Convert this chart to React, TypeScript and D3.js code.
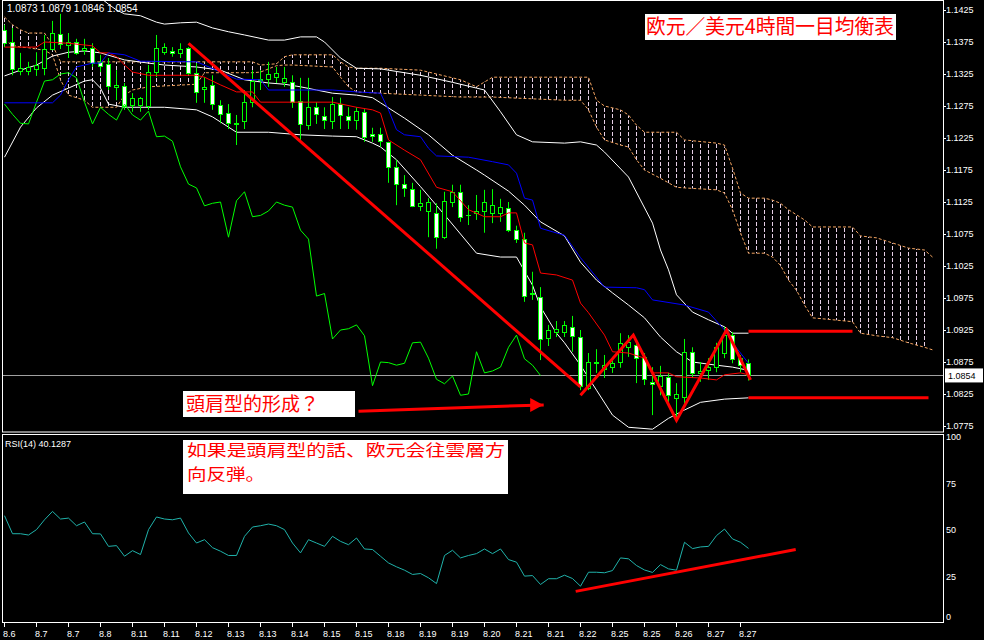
import React from 'react';
import * as d3 from 'd3';

// EUR/USD 4H bars
const opens = [
  1.1394, 1.1375, 1.1330, 1.1330, 1.1333, 1.1334, 1.1364, 1.1388, 1.1370, 1.1375,
  1.1362, 1.1366, 1.1344, 1.1341, 1.1305, 1.1306, 1.1277, 1.1277, 1.1275, 1.1328,
  1.1359, 1.1361, 1.1358, 1.1366, 1.1327, 1.1302, 1.1308, 1.1277, 1.1264, 1.1248,
  1.1252, 1.1281, 1.1317, 1.1317, 1.1320, 1.1312, 1.1312, 1.1283, 1.1245, 1.1273,
  1.1259, 1.1252, 1.1278, 1.1259, 1.1253, 1.1266, 1.1231, 1.1231, 1.1219, 1.1180,
  1.1153, 1.1145, 1.1119, 1.1111, 1.1108, 1.1070, 1.1125, 1.1141, 1.1105, 1.1108,
  1.1111, 1.1108, 1.1108, 1.1116, 1.1081, 1.1067, 1.0983, 1.0977, 1.0913, 1.0922,
  1.0922, 1.0930, 1.0914, 1.0834, 1.0875, 1.0864, 1.0867, 1.0875, 1.0898, 1.0902,
  1.0883, 1.0844, 1.0838, 1.0852, 1.0819, 1.0820, 1.0891, 1.0858, 1.0862, 1.0867,
  1.0889, 1.0917, 1.0881, 1.0873,
];
const highs = [
  1.1402, 1.1397, 1.1358, 1.1344, 1.1359, 1.1386, 1.1408, 1.1419, 1.1389, 1.1380,
  1.1380, 1.1373, 1.1355, 1.1350, 1.1331, 1.1311, 1.1295, 1.1289, 1.1339, 1.1386,
  1.1373, 1.1367, 1.1373, 1.1367, 1.1342, 1.1320, 1.1323, 1.1284, 1.1278, 1.1261,
  1.1300, 1.1331, 1.1331, 1.1344, 1.1336, 1.1336, 1.1323, 1.1319, 1.1319, 1.1281,
  1.1273, 1.1289, 1.1288, 1.1273, 1.1273, 1.1270, 1.1241, 1.1241, 1.1219, 1.1191,
  1.1167, 1.1155, 1.1144, 1.1131, 1.1123, 1.1141, 1.1152, 1.1152, 1.1120, 1.1136,
  1.1144, 1.1145, 1.1130, 1.1125, 1.1088, 1.1077, 1.1016, 1.0992, 1.0933, 1.0939,
  1.0939, 1.0947, 1.0925, 1.0889, 1.0895, 1.0886, 1.0883, 1.0920, 1.0917, 1.0905,
  1.0889, 1.0867, 1.0869, 1.0858, 1.0842, 1.0911, 1.0898, 1.0875, 1.0881, 1.0905,
  1.0930, 1.0922, 1.0886, 1.0879,
];
const lows = [
  1.1367, 1.1323, 1.1323, 1.1323, 1.1322, 1.1323, 1.1362, 1.1364, 1.1350, 1.1355,
  1.1355, 1.1336, 1.1328, 1.1300, 1.1284, 1.1269, 1.1266, 1.1266, 1.1269, 1.1320,
  1.1355, 1.1352, 1.1350, 1.1323, 1.1280, 1.1280, 1.1269, 1.1248, 1.1239, 1.1214,
  1.1239, 1.1273, 1.1300, 1.1305, 1.1311, 1.1305, 1.1272, 1.1222, 1.1238, 1.1247,
  1.1239, 1.1239, 1.1239, 1.1239, 1.1238, 1.1219, 1.1219, 1.1211, 1.1155, 1.1120,
  1.1133, 1.1117, 1.1111, 1.1070, 1.1052, 1.1067, 1.1117, 1.1094, 1.1089, 1.1097,
  1.1077, 1.1092, 1.1094, 1.1078, 1.1061, 1.0969, 1.0972, 1.0878, 1.0900, 1.0914,
  1.0914, 1.0891, 1.0831, 1.0831, 1.0858, 1.0850, 1.0858, 1.0866, 1.0883, 1.0842,
  1.0839, 1.0792, 1.0823, 1.0808, 1.0784, 1.0805, 1.0850, 1.0844, 1.0847, 1.0859,
  1.0881, 1.0873, 1.0859, 1.0846,
];
const closes = [
  1.1373, 1.1333, 1.1334, 1.1336, 1.1339, 1.1364, 1.1389, 1.1372, 1.1375, 1.1358,
  1.1366, 1.1342, 1.1338, 1.1306, 1.1308, 1.1275, 1.1288, 1.1288, 1.1328, 1.1366,
  1.1367, 1.1358, 1.1364, 1.1327, 1.1297, 1.1305, 1.1278, 1.1262, 1.1248, 1.1247,
  1.1281, 1.1314, 1.1316, 1.1325, 1.1327, 1.1319, 1.1281, 1.1247, 1.1273, 1.1262,
  1.1253, 1.1278, 1.1261, 1.1253, 1.1267, 1.1227, 1.1228, 1.1220, 1.1180, 1.1153,
  1.1147, 1.1119, 1.1123, 1.1125, 1.1070, 1.1127, 1.1141, 1.1102, 1.1104, 1.1111,
  1.1125, 1.1120, 1.1117, 1.1081, 1.1067, 1.0978, 1.0982, 1.0911, 1.0925, 1.0927,
  1.0933, 1.0916, 1.0838, 1.0875, 1.0874, 1.0870, 1.0873, 1.0905, 1.0906, 1.0881,
  1.0848, 1.0841, 1.0853, 1.0823, 1.0825, 1.0891, 1.0858, 1.0861, 1.0867, 1.0898,
  1.0917, 1.0880, 1.0870, 1.0854,
];

const dateLabels = [
  '8.6', '8.7', '8.7', '8.8', '8.11', '8.11', '8.12', '8.13', '8.13', '8.14', '8.15', '8.15',
  '8.18', '8.19', '8.19', '8.20', '8.21', '8.21', '8.22', '8.25', '8.25', '8.26', '8.27', '8.27',
];
const priceTicks = [
  1.1425, 1.1375, 1.1325, 1.1275, 1.1225, 1.1175, 1.1125, 1.1075,
  1.1025, 1.0975, 1.0925, 1.0875, 1.0825, 1.0775,
];
const rsiTicks = [100, 75, 50, 25, 0];

// indicator lines: [bar, price]
const bbUpper: [number, number][] = [
  [0, 1.1456], [6, 1.1459], [10, 1.1450], [12, 1.1444], [13, 1.1434], [14, 1.1425], [15, 1.1419],
  [17, 1.1416], [19, 1.1406], [20, 1.1403], [22, 1.1405], [24, 1.1406], [26, 1.1397], [28, 1.1391],
  [30, 1.1386], [33, 1.1378], [35, 1.1378], [37, 1.1383], [39, 1.1383], [40, 1.1375], [42, 1.1350],
  [43, 1.1342], [44, 1.1334], [47, 1.1333], [52, 1.1323], [56, 1.1312], [59, 1.1303], [60, 1.1300],
  [62, 1.1266], [64, 1.1230], [66, 1.1219], [70, 1.1217], [72, 1.1219], [74, 1.1214], [75, 1.1203],
  [78, 1.1164], [81, 1.1092], [82, 1.1050], [83, 1.1019], [84, 1.0980], [86, 1.0953], [88, 1.0941],
  [90, 1.0930], [91, 1.0920], [93, 1.0920],
];
const bbMid: [number, number][] = [
  [0, 1.1322], [2, 1.1331], [4, 1.1339], [6, 1.1353], [8, 1.1359], [10, 1.1361], [12, 1.1358],
  [15, 1.1347], [18, 1.1342], [20, 1.1339], [24, 1.1336], [27, 1.1331], [30, 1.1316], [33, 1.1311],
  [35, 1.1309], [37, 1.1305], [39, 1.1300], [41, 1.1295], [44, 1.1292], [46, 1.1288], [47, 1.1280],
  [50, 1.1256], [53, 1.1230], [56, 1.1198], [59, 1.1175], [60, 1.1167], [63, 1.1142], [65, 1.1120],
  [67, 1.1094], [70, 1.1072], [72, 1.1031], [74, 1.1003], [76, 1.0983], [78, 1.0964], [80, 1.0944],
  [82, 1.0914], [84, 1.0891], [86, 1.0875], [89, 1.0870], [91, 1.0867], [93, 1.0862],
];
const bbLower: [number, number][] = [
  [0, 1.1195], [2, 1.1242], [4, 1.1272], [6, 1.1292], [8, 1.1303], [10, 1.1314], [11, 1.1316],
  [12, 1.1303], [13, 1.1278], [15, 1.1273], [20, 1.1273], [24, 1.1269], [26, 1.1258], [29, 1.1234],
  [33, 1.1234], [37, 1.1230], [41, 1.1228], [44, 1.1227], [46, 1.1217], [47, 1.1211], [49, 1.1191],
  [52, 1.1149], [55, 1.1105], [59, 1.1045], [62, 1.1039], [64, 1.1039], [66, 1.0995], [67, 1.0961],
  [69, 1.0920], [70, 1.0905], [72, 1.0870], [74, 1.0831], [76, 1.0792], [78, 1.0773], [81, 1.0770],
  [83, 1.0787], [85, 1.0800], [87, 1.0812], [90, 1.0817], [93, 1.0819],
];
const tenkan: [number, number][] = [
  [0, 1.1367], [4, 1.1367], [5, 1.1375], [8, 1.1373], [11, 1.1369], [12, 1.1358], [13, 1.1358],
  [14, 1.1352], [15, 1.1339], [16, 1.1328], [18, 1.1323], [24, 1.1323], [25, 1.1320], [27, 1.1308],
  [29, 1.1297], [31, 1.1297], [32, 1.1281], [41, 1.1281], [44, 1.1273], [46, 1.1269], [47, 1.1264],
  [48, 1.1222], [50, 1.1206], [52, 1.1191], [54, 1.1148], [56, 1.1141], [58, 1.1113], [60, 1.1102],
  [62, 1.1102], [63, 1.1108], [64, 1.1108], [65, 1.1061], [66, 1.1058], [67, 1.1014], [69, 1.1011],
  [71, 1.1003], [72, 1.0967], [73, 1.0952], [75, 1.0917], [76, 1.0891], [78, 1.0889], [80, 1.0881],
  [81, 1.0858], [83, 1.0858], [84, 1.0852], [87, 1.0850], [89, 1.0847], [90, 1.0855], [92, 1.0858],
  [93, 1.0855],
];
const kijun: [number, number][] = [
  [0, 1.1280], [6, 1.1280], [7, 1.1292], [8, 1.1316], [9, 1.1336], [11, 1.1342], [12, 1.1342],
  [13, 1.1358], [15, 1.1355], [17, 1.1345], [24, 1.1344], [25, 1.1339], [29, 1.1317], [32, 1.1316],
  [33, 1.1300], [41, 1.1300], [44, 1.1297], [47, 1.1295], [48, 1.1269], [49, 1.1238], [50, 1.1230],
  [52, 1.1227], [53, 1.1209], [54, 1.1197], [58, 1.1195], [61, 1.1188], [63, 1.1183], [64, 1.1170],
  [65, 1.1131], [66, 1.1128], [67, 1.1084], [70, 1.1073], [72, 1.1038], [75, 1.0992], [79, 1.0991],
  [80, 1.0988], [81, 1.0972], [85, 1.0964], [88, 1.0953], [90, 1.0925], [91, 1.0905], [93, 1.0873],
];

// kumo (shifted 26 bars forward)
const cloudBars = [
  0, 1, 2, 3, 5, 6, 7, 8, 10, 11, 14, 15, 16, 18, 24, 25, 31, 32, 34, 35,
  36, 41, 42, 43, 44, 47, 52, 57, 59, 61, 70, 72, 73, 74, 75, 77, 78, 79, 80, 82,
  84, 85, 89, 90, 91, 92, 93, 95, 96, 97, 98, 99, 100, 101, 106, 107, 109, 111, 113, 115,
  116,
];
const senkouB = [
  1.1414, 1.1402, 1.1394, 1.1389, 1.1389, 1.1370, 1.1344, 1.1344, 1.1344, 1.1344,
  1.1344, 1.1344, 1.1344, 1.1344, 1.1344, 1.1344, 1.1344, 1.1339, 1.1341, 1.1352,
  1.1355, 1.1355, 1.1344, 1.1336, 1.1334, 1.1334, 1.1331, 1.1316, 1.1305, 1.1320,
  1.1320, 1.1320, 1.1320, 1.1284, 1.1275, 1.1269, 1.1261, 1.1245, 1.1234, 1.1234,
  1.1234, 1.1222, 1.1217, 1.1214, 1.1178, 1.1139, 1.1131, 1.1131, 1.1128, 1.1123,
  1.1113, 1.1105, 1.1097, 1.1086, 1.1086, 1.1072, 1.1069, 1.1061, 1.1053, 1.1050,
  1.1039,
];
const senkouA = [
  1.1378, 1.1370, 1.1367, 1.1366, 1.1362, 1.1355, 1.1316, 1.1292, 1.1284, 1.1273,
  1.1273, 1.1292, 1.1300, 1.1305, 1.1309, 1.1327, 1.1327, 1.1328, 1.1338, 1.1339,
  1.1339, 1.1336, 1.1320, 1.1305, 1.1297, 1.1295, 1.1292, 1.1289, 1.1289, 1.1289,
  1.1284, 1.1284, 1.1269, 1.1242, 1.1222, 1.1214, 1.1211, 1.1191, 1.1175, 1.1162,
  1.1148, 1.1147, 1.1144, 1.1139, 1.1113, 1.1077, 1.1045, 1.1045, 1.1039, 1.1026,
  1.1003, 1.0987, 1.0964, 1.0944, 1.0938, 1.0920, 1.0916, 1.0913, 1.0905, 1.0898,
  1.0894,
];

// RSI(14)
const rsi = [
  57.7, 48.0, 48.0, 47.3, 50.2, 55.5, 60.0, 55.9, 56.4, 52.3,
  54.3, 48.0, 47.9, 41.2, 41.6, 35.9, 38.9, 36.8, 50.2, 57.0,
  55.9, 55.5, 56.4, 48.4, 43.0, 44.8, 40.5, 38.6, 36.3, 36.3,
  46.6, 51.6, 52.3, 53.2, 52.3, 50.2, 43.0, 37.7, 44.8, 43.0,
  41.2, 46.6, 43.9, 42.1, 45.7, 39.8, 39.5, 35.9, 32.3, 30.2,
  28.4, 26.1, 26.6, 24.3, 21.2, 36.3, 39.1, 35.0, 36.3, 37.3,
  39.8, 37.3, 39.8, 34.1, 32.7, 25.2, 25.5, 20.7, 23.8, 23.8,
  25.7, 23.9, 19.8, 27.3, 27.3, 27.0, 28.2, 35.0, 34.5, 30.9,
  28.5, 27.2, 31.4, 29.1, 28.4, 43.4, 40.0, 40.9, 41.2, 47.0,
  50.5, 45.2, 43.4, 40.1,
];

// hand-drawn objects
const neckline: [number, number][] = [[23, 1.1373], [72, 1.0836]];
const zigzag: [number, number][] = [[72, 1.0823], [78.6, 1.0917], [84, 1.0784], [90.25, 1.0925], [93.25, 1.0847]];
const resistance: [number, number][] = [[93, 1.0923], [106, 1.0923]];
const support: [number, number][] = [[93, 1.0819], [115.5, 1.0819]];
const arrowLine: [number, number][] = [[44.25, 1.0798], [67.4, 1.0808]];
const rsiTrend: [number, number][] = [[71.4, 17], [98.9, 39.5]];

const GREEN = '#00ff00';
const AXIS_FONT = 'Liberation Sans, Arial, sans-serif';
const CJK_FONT = '"Noto Sans CJK JP", "Noto Sans CJK SC", sans-serif';

export default function App() {
  const last = closes.length - 1;
  const x = d3.scaleLinear().domain([0, last]).range([4, 748]);
  const y = d3.scaleLinear().domain([1.0775, 1.1425]).range([426, 10]);
  const yr = d3.scaleLinear().domain([0, 100]).range([623, 437]);

  const px = (i: number) => Math.round(x(i)) + 0.5;
  const line = d3.line<[number, number]>().x(d => x(d[0]) + 0.5).y(d => y(d[1]));
  const rsiLine = d3.line<[number, number]>().x(d => x(d[0]) + 0.5).y(d => yr(d[1]));

  const cloud = cloudBars.map((b, k) => ({ b, a: senkouA[k], s: senkouB[k] }));
  const cloudArea = d3.area<{ b: number; a: number; s: number }>()
    .x(d => x(d.b))
    .y0(d => y(d.a))
    .y1(d => y(d.s));
  const spanA = d3.line<{ b: number; a: number; s: number }>().x(d => x(d.b) + 0.5).y(d => y(d.a));
  const spanB = d3.line<{ b: number; a: number; s: number }>().x(d => x(d.b) + 0.5).y(d => y(d.s));

  const chikou = closes.slice(26).map((c, k) => [k, c] as [number, number]);
  const rsiPts = rsi.map((v, i) => [i, v] as [number, number]);
  const lastPrice = closes[last];

  const arrowEnd = [x(arrowLine[1][0]), y(arrowLine[1][1])];

  return (
    <svg width={984} height={640} style={{ position: 'absolute', left: 0, top: 0, background: '#000' }}>
      <defs>
        <clipPath id="mainClip"><rect x={3} y={1} width={940} height={431} /></clipPath>
        <clipPath id="rsiClip"><rect x={3} y={435} width={940} height={188} /></clipPath>
        <pattern id="kumo" patternUnits="userSpaceOnUse" x={4} y={0} width={8} height={6}>
          <rect x={0} y={0} width={1} height={4} fill="#e6cfe6" />
        </pattern>
      </defs>
      <rect x={0} y={0} width={984} height={640} fill="#000" />

      {/* main window */}
      <g clipPath="url(#mainClip)">
        <path d={cloudArea(cloud) || ''} fill="url(#kumo)" />
        <path d={spanA(cloud) || ''} fill="none" stroke="#f4a460" strokeDasharray="3 2" />
        <path d={spanB(cloud) || ''} fill="none" stroke="#f4a460" strokeDasharray="3 2" />

        <line x1={3} x2={943} y1={Math.round(y(lastPrice)) + 0.5} y2={Math.round(y(lastPrice)) + 0.5} stroke="#a0a0a0" />

        {[bbUpper, bbMid, bbLower].map((b, k) => (
          <path key={k} d={line(b) || ''} fill="none" stroke="#ffffff" />
        ))}

        {closes.map((c, i) => {
          const o = opens[i];
          const cx = px(i);
          const top = Math.round(Math.min(y(o), y(c))) + 0.5;
          const bot = Math.round(Math.max(y(o), y(c))) + 0.5;
          return (
            <g key={i}>
              <line x1={cx} x2={cx} y1={y(highs[i])} y2={y(lows[i])} stroke={GREEN} />
              {bot - top < 1
                ? <line x1={cx - 2.5} x2={cx + 2.5} y1={top} y2={top} stroke={GREEN} />
                : <rect x={cx - 2} y={top} width={4} height={bot - top} fill={c < o ? '#ffffff' : '#000000'} stroke={GREEN} />}
            </g>
          );
        })}

        <path d={line(chikou) || ''} fill="none" stroke={GREEN} />
        <path d={line(tenkan) || ''} fill="none" stroke="#ff0000" />
        <path d={line(kijun) || ''} fill="none" stroke="#0000ff" />

        <path d={line(neckline) || ''} fill="none" stroke="#ff0000" strokeWidth={3} />
        <path d={line(zigzag) || ''} fill="none" stroke="#ff0000" strokeWidth={3} />
        <path d={line(resistance) || ''} fill="none" stroke="#ff0000" strokeWidth={3} />
        <path d={line(support) || ''} fill="none" stroke="#ff0000" strokeWidth={3} />
        <path d={line(arrowLine) || ''} fill="none" stroke="#ff0000" strokeWidth={3} />
        <polygon
          points={`${arrowEnd[0] - 13},${arrowEnd[1] - 7} ${arrowEnd[0]},${arrowEnd[1]} ${arrowEnd[0] - 13},${arrowEnd[1] + 7}`}
          fill="#ff0000"
        />
      </g>

      <text x={7} y={12} fill="#fff" fontSize={10} fontFamily={AXIS_FONT}>1.0873 1.0879 1.0846 1.0854</text>

      {/* annotations */}
      <rect x={645} y={14} width={251} height={26} fill="#fff" />
      <text x={646} y={34} fill="#ff0000" fontSize={20} fontFamily={CJK_FONT} textLength={248} lengthAdjust="spacingAndGlyphs">欧元／美元4時間一目均衡表</text>
      <rect x={183} y={391} width={172} height={26} fill="#fff" />
      <text x={186} y={411} fill="#ff0000" fontSize={19} fontFamily={CJK_FONT}>頭肩型的形成？</text>

      {/* price axis */}
      {priceTicks.map(p => (
        <g key={p}>
          <line x1={943} x2={946} y1={Math.round(y(p)) + 0.5} y2={Math.round(y(p)) + 0.5} stroke="#fff" />
          <text x={946} y={y(p) + 3} fill="#fff" fontSize={9} fontFamily={AXIS_FONT}>{p.toFixed(4)}</text>
        </g>
      ))}
      <rect x={945} y={y(lastPrice) - 7} width={38} height={14} fill="#fff" />
      <text x={948} y={y(lastPrice) + 3.5} fill="#000" fontSize={9} fontFamily={AXIS_FONT}>{lastPrice.toFixed(4)}</text>

      {/* RSI window */}
      <g clipPath="url(#rsiClip)">
        <path d={rsiLine(rsiPts) || ''} fill="none" stroke="#20b2aa" />
        <path d={rsiLine(rsiTrend) || ''} fill="none" stroke="#ff0000" strokeWidth={3} />
      </g>
      <text x={5} y={447} fill="#fff" fontSize={9} fontFamily={AXIS_FONT}>RSI(14) 40.1287</text>
      {rsiTicks.map(v => (
        <text key={v} x={946} y={Math.min(yr(v) + 3, 620)} fill="#fff" fontSize={9} fontFamily={AXIS_FONT}>{v}</text>
      ))}
      <rect x={183} y={440} width={325} height={54} fill="#fff" />
      <text x={187} y={456} fill="#ff0000" fontSize={16} fontFamily={CJK_FONT} textLength={318} lengthAdjust="spacingAndGlyphs">如果是頭肩型的話、欧元会往雲層方</text>
      <text x={187} y={480} fill="#ff0000" fontSize={16} fontFamily={CJK_FONT} textLength={78} lengthAdjust="spacingAndGlyphs">向反弾。</text>

      {/* frames */}
      <rect x={2.5} y={0.5} width={941} height={431.5} fill="none" stroke="#fff" />
      <rect x={2.5} y={434.5} width={941} height={188} fill="none" stroke="#fff" />

      {/* time axis */}
      {dateLabels.map((lbl, k) => (
        <g key={k}>
          <line x1={px(k * 4)} x2={px(k * 4)} y1={623} y2={627} stroke="#fff" />
          <text x={x(k * 4) - 1} y={637} fill="#fff" fontSize={9} fontFamily={AXIS_FONT}>{lbl}</text>
        </g>
      ))}
    </svg>
  );
}
